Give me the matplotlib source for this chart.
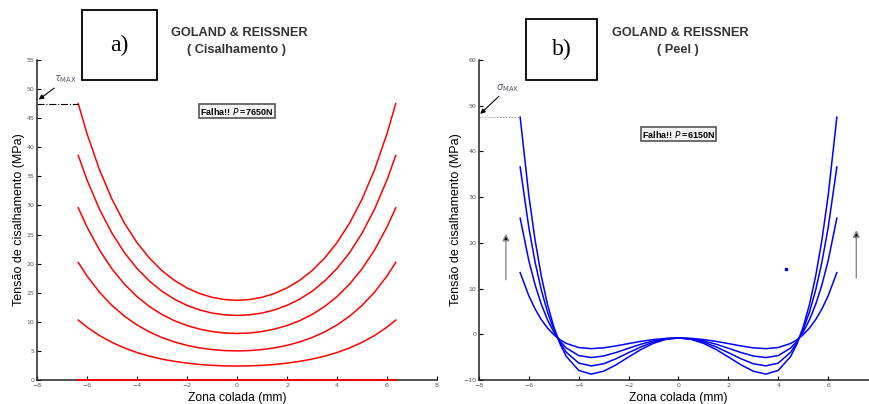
import matplotlib
matplotlib.use("Agg")
import matplotlib.pyplot as plt
from matplotlib.patches import Rectangle

# shear stress along the bond line (Goland & Reissner), 5 load steps + zero line
x_shear = [-6.35, -6.0, -5.5, -5.0, -4.5, -4.0, -3.5, -3.0, -2.5, -2.0, -1.5, -1.0, -0.5, 0.0,
           0.5, 1.0, 1.5, 2.0, 2.5, 3.0, 3.5, 4.0, 4.5, 5.0, 5.5, 6.0, 6.35]
tau_1 = [47.50, 42.34, 36.12, 31.06, 26.94, 23.61, 20.93, 18.79, 17.11, 15.82, 14.87, 14.21, 13.83, 13.70,
         13.83, 14.21, 14.87, 15.82, 17.11, 18.79, 20.93, 23.61, 26.94, 31.06, 36.12, 42.34, 47.50]
tau_2 = [38.60, 34.40, 29.34, 25.22, 21.87, 19.17, 16.99, 15.24, 13.88, 12.83, 12.05, 11.51, 11.20, 11.10,
         11.20, 11.51, 12.05, 12.83, 13.88, 15.24, 16.99, 19.17, 21.87, 25.22, 29.34, 34.40, 38.60]
tau_3 = [29.60, 26.30, 22.33, 19.09, 16.46, 14.34, 12.62, 11.26, 10.18, 9.36, 8.75, 8.33, 8.08, 8.00,
         8.08, 8.33, 8.75, 9.36, 10.18, 11.26, 12.62, 14.34, 16.46, 19.09, 22.33, 26.30, 29.60]
tau_4 = [20.20, 17.88, 15.08, 12.81, 10.96, 9.46, 8.25, 7.29, 6.54, 5.95, 5.52, 5.23, 5.06, 5.00,
         5.06, 5.23, 5.52, 5.95, 6.54, 7.29, 8.25, 9.46, 10.96, 12.81, 15.08, 17.88, 20.20]
tau_5 = [10.30, 9.09, 7.64, 6.46, 5.50, 4.72, 4.09, 3.59, 3.20, 2.90, 2.67, 2.52, 2.43, 2.40,
         2.43, 2.52, 2.67, 2.90, 3.20, 3.59, 4.09, 4.72, 5.50, 6.46, 7.64, 9.09, 10.30]
tau_0 = [0.0] * len(x_shear)
tau_max = 47.5

# peel stress, 4 load steps
x_peel = [-6.35, -6.0, -5.75, -5.5, -5.25, -5.0, -4.75, -4.5, -4.0, -3.5, -3.0, -2.5, -2.0, -1.5, -1.0, -0.5, 0.0,
          0.5, 1.0, 1.5, 2.0, 2.5, 3.0, 3.5, 4.0, 4.5, 4.75, 5.0, 5.25, 5.5, 5.75, 6.0, 6.35]
sig_1 = [47.50, 30.28, 20.58, 12.72, 6.47, 1.59, -2.12, -4.84, -7.91, -8.71, -8.08, -6.67, -4.96, -3.31, -1.97, -1.10, -0.80,
         -1.10, -1.97, -3.31, -4.96, -6.67, -8.08, -8.71, -7.91, -4.84, -2.12, 1.59, 6.47, 12.72, 20.58, 30.28, 47.50]
sig_2 = [36.60, 23.27, 15.76, 9.67, 4.83, 1.05, -1.82, -3.92, -6.30, -6.92, -6.44, -5.34, -4.02, -2.74, -1.70, -1.03, -0.80,
         -1.03, -1.70, -2.74, -4.02, -5.34, -6.44, -6.92, -6.30, -3.92, -1.82, 1.05, 4.83, 9.67, 15.76, 23.27, 36.60]
sig_3 = [25.40, 16.06, 10.80, 6.54, 3.14, 0.49, -1.52, -2.99, -4.66, -5.09, -4.75, -3.98, -3.06, -2.16, -1.43, -0.96, -0.80,
         -0.96, -1.43, -2.16, -3.06, -3.98, -4.75, -5.09, -4.66, -2.99, -1.52, 0.49, 3.14, 6.54, 10.80, 16.06, 25.40]
sig_4 = [13.50, 8.40, 5.53, 3.20, 1.35, -0.09, -1.19, -2.00, -2.90, -3.14, -2.96, -2.54, -2.03, -1.54, -1.15, -0.89, -0.80,
         -0.89, -1.15, -1.54, -2.03, -2.54, -2.96, -3.14, -2.90, -2.00, -1.19, -0.09, 1.35, 3.20, 5.53, 8.40, 13.50]
sig_max = 47.5
stray_point = (4.33, 14.3)

W, H = 870, 404
fig = plt.figure(figsize=(W / 100, H / 100), dpi=100)

ax1 = fig.add_axes([37 / W, 24 / H, 400 / W, 320 / H])
ax2 = fig.add_axes([479 / W, 24 / H, 399 / W, 320 / H])

tick_col = "#555566"
for ax in (ax1, ax2):
    ax.spines["top"].set_visible(False)
    ax.spines["right"].set_visible(False)
    for s in ("left", "bottom"):
        ax.spines[s].set_linewidth(1.1)
        ax.spines[s].set_color("#222222")
    ax.tick_params(direction="in", length=3, width=0.8, labelsize=4.5, labelcolor=tick_col, pad=2)
    ax.set_xlim(-8, 8)
    ax.set_xlabel("Zona colada (mm)", fontsize=8.7, family="Liberation Sans", labelpad=3)
    ax.set_ylabel("Tensão de cisalhamento (MPa)", fontsize=9, family="Liberation Sans", labelpad=1)
ax1.set_xticks(range(-8, 9, 2))
ax2.set_xticks(range(-8, 7, 2))  # the 8 mark falls past the right edge

# shear plot
ax1.set_ylim(0, 55)
ax1.set_yticks(range(0, 56, 5))
for t in (tau_1, tau_2, tau_3, tau_4, tau_5):
    ax1.plot(x_shear, t, color="red", lw=1.1)
ax1.plot(x_shear, tau_0, color="red", lw=1.3, zorder=5, clip_on=False)
ax1.plot([-8, x_shear[0]], [tau_max, tau_max], color="black", lw=0.8, ls="-.", clip_on=False)
ax1.annotate(r"$\tau_{\rm MAX}$", xy=(-7.93, 48.2), xytext=(-7.3, 51.3), fontsize=7, color="#556",
             arrowprops=dict(arrowstyle="-|>", color="black", lw=0.8, mutation_scale=7,
                             shrinkA=0, shrinkB=0))
ax1.text(0, 46.2, r"Falha!! $\mathbf{\mathit{P}}$ =7650N", fontsize=6.5, fontweight="bold", ha="center",
         va="center", family="Liberation Sans",
         bbox=dict(boxstyle="square,pad=0.15", fc="#f4f4f4", ec="#555555", lw=1.2))

# peel plot
ax2.set_ylim(-10, 60)
ax2.set_yticks(range(-10, 61, 10))
for s in (sig_1, sig_2, sig_3, sig_4):
    ax2.plot(x_peel, s, color="blue", lw=1.1)
ax2.plot([-8, x_peel[0]], [sig_max, sig_max], color="#999999", lw=0.8, ls=":", clip_on=False)
ax2.annotate(r"$\sigma_{\rm MAX}$", xy=(-7.95, 48.2), xytext=(-7.3, 53.5), fontsize=7, color="#556",
             arrowprops=dict(arrowstyle="-|>", color="black", lw=0.8, mutation_scale=7,
                             shrinkA=0, shrinkB=0))
ax2.text(0, 43.8, r"Falha!! $\mathbf{\mathit{P}}$ =6150N", fontsize=6.5, fontweight="bold", ha="center",
         va="center", family="Liberation Sans",
         bbox=dict(boxstyle="square,pad=0.15", fc="#f4f4f4", ec="#555555", lw=1.2))
for xa, y0, y1 in ((-6.92, 11.9, 22.0), (7.13, 12.3, 22.8)):
    ax2.annotate("", xy=(xa, y1), xytext=(xa, y0),
                 arrowprops=dict(arrowstyle="-|>", ec="#8a8a8a", fc="black", lw=1.0,
                                 mutation_scale=10, shrinkA=0, shrinkB=0))
ax2.plot([stray_point[0]], [stray_point[1]], marker="s", ms=2, color="blue", ls="none")

# titles
for cx, sub in ((239, "( Cisalhamento )"), (680, "( Peel )")):
    fig.text(cx / W, 1 - 33 / H, "GOLAND & REISSNER", ha="center", va="center", fontsize=9.2,
             fontweight="bold", family="Liberation Sans", color="#333333")
    fig.text((cx - 2) / W, 1 - 50 / H, sub, ha="center", va="center", fontsize=9.2,
             fontweight="bold", family="Liberation Sans", color="#333333")

# panel letters in boxes
for (x0, y0, x1, y1), lab in (((82, 10, 157, 80), "a)"), ((526, 19, 597, 80), "b)")):
    fig.patches.append(Rectangle((x0 / W, 1 - y1 / H), (x1 - x0) / W, (y1 - y0) / H,
                                 transform=fig.transFigure, fc="white", ec="black", lw=1.3))
    fig.text((x0 + x1) / 2 / W, 1 - (y0 + y1) / 2 / H, lab, ha="center", va="center",
             fontsize=17, family="Liberation Serif")

fig.savefig("out.png", dpi=100)
